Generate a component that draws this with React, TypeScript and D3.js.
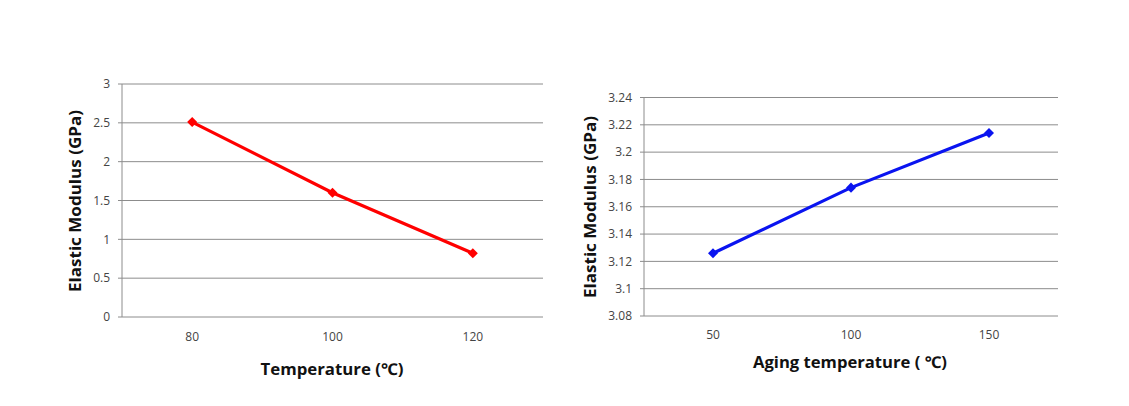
import React from "react";
import * as d3 from "d3";

const leftCategories = ["80", "100", "120"];
const leftValues = [2.51, 1.6, 0.82];
const leftTicks = [0, 0.5, 1, 1.5, 2, 2.5, 3];
const leftTickLabels = ["0", "0.5", "1", "1.5", "2", "2.5", "3"];

const rightCategories = ["50", "100", "150"];
const rightValues = [3.126, 3.174, 3.214];
const rightTicks = [3.08, 3.1, 3.12, 3.14, 3.16, 3.18, 3.2, 3.22, 3.24];
const rightTickLabels = ["3.08", "3.1", "3.12", "3.14", "3.16", "3.18", "3.2", "3.22", "3.24"];

type ChartProps = {
  categories: string[];
  values: number[];
  ticks: number[];
  tickLabels: string[];
  domain: [number, number];
  left: number;
  right: number;
  top: number;
  bottom: number;
  color: string;
  xTitle: string;
  yTitle: string;
  xTitleX: number;
  xTitleY: number;
  xTitleLen: number;
  xTickY: number;
  yTitleX: number;
  yTitleCY: number;
};

function Chart(p: ChartProps) {
  const x = d3.scaleBand<string>().domain(p.categories).range([p.left, p.right]).padding(0);
  const y = d3.scaleLinear().domain(p.domain).range([p.bottom, p.top]);
  const cx = (c: string) => (x(c) as number) + x.bandwidth() / 2;
  const line = d3
    .line<number>()
    .x((_, i) => cx(p.categories[i]))
    .y((v) => y(v));
  const diamond = d3.symbol().type(d3.symbolDiamond2).size(64)();
  const font = "'Open Sans', 'Noto Sans', sans-serif";
  return (
    <g>
      {p.ticks.map((t, i) => (
        <g key={i}>
          <line x1={p.left - 4} x2={p.right} y1={y(t)} y2={y(t)} stroke="#8c8c8c" strokeWidth={1} />
          <text
            x={p.left - 12}
            y={y(t)}
            dy="0.35em"
            textAnchor="end"
            fontSize={12}
            fill="#444"
            fontFamily={font}
          >
            {p.tickLabels[i]}
          </text>
        </g>
      ))}
      <line x1={p.left} x2={p.left} y1={p.top} y2={p.bottom} stroke="#8c8c8c" strokeWidth={1} />
      {p.categories.map((c) => (
        <text key={c} x={cx(c)} y={p.xTickY} textAnchor="middle" fontSize={12} fill="#444" fontFamily={font}>
          {c}
        </text>
      ))}
      <path d={line(p.values) || ""} fill="none" stroke={p.color} strokeWidth={3.2} />
      {p.values.map((v, i) => (
        <path key={i} d={diamond || ""} transform={`translate(${cx(p.categories[i])},${y(v)})`} fill={p.color} />
      ))}
      <text
        x={p.xTitleX}
        y={p.xTitleY}
        textAnchor="middle"
        fontSize={16}
        fontWeight="bold"
        fill="#111"
        fontFamily={font}
        textLength={p.xTitleLen}
        lengthAdjust="spacingAndGlyphs"
      >
        {p.xTitle}
      </text>
      <text
        transform={`translate(${p.yTitleX},${p.yTitleCY}) rotate(-90)`}
        textAnchor="middle"
        fontSize={16}
        fontWeight="bold"
        fill="#111"
        fontFamily={font}
        textLength={182}
        lengthAdjust="spacingAndGlyphs"
      >
        {p.yTitle}
      </text>
    </g>
  );
}

export default function App() {
  return (
    <svg
      width={1129}
      height={406}
      style={{ position: "absolute", left: 0, top: 0, background: "#fff" }}
    >
      <rect width={1129} height={406} fill="#fff" />
      <Chart
        categories={leftCategories}
        values={leftValues}
        ticks={leftTicks}
        tickLabels={leftTickLabels}
        domain={[0, 3]}
        left={122}
        right={543}
        top={84}
        bottom={317}
        color="#ff0000"
        xTitle="Temperature (℃)"
        yTitle="Elastic Modulus (GPa)"
        xTitleX={332}
        xTitleY={375}
        xTitleLen={143}
        xTickY={341}
        yTitleX={81}
        yTitleCY={201}
      />
      <Chart
        categories={rightCategories}
        values={rightValues}
        ticks={rightTicks}
        tickLabels={rightTickLabels}
        domain={[3.08, 3.24]}
        left={644}
        right={1058}
        top={97.5}
        bottom={316}
        color="#0a14f0"
        xTitle="Aging temperature ( ℃)"
        yTitle="Elastic Modulus (GPa)"
        xTitleX={850}
        xTitleY={368}
        xTitleLen={194}
        xTickY={339}
        yTitleX={596}
        yTitleCY={207}
      />
    </svg>
  );
}
